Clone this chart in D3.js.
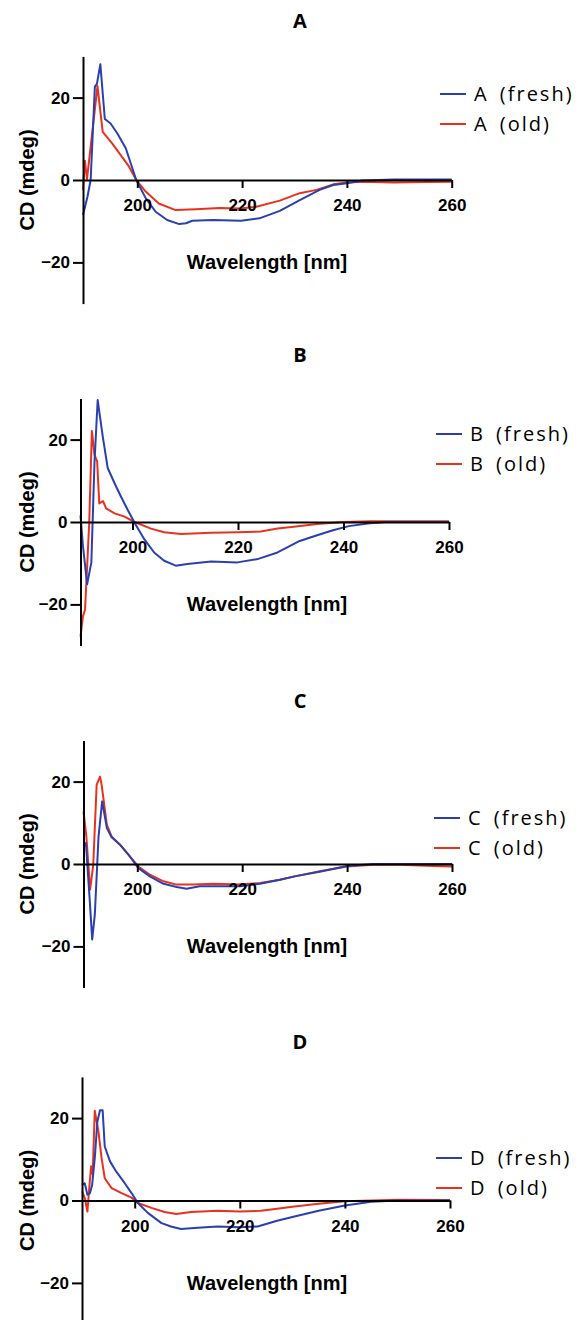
<!DOCTYPE html>
<html>
<head>
<meta charset="utf-8">
<script src="https://cdn.jsdelivr.net/npm/d3@7"></script>
<style>
  body { margin: 0; background: #fff; }
  svg { display: block; }
  .tick text { font-family: "Liberation Sans", Arial, sans-serif; font-weight: bold; font-size: 17px; fill: #000; }
  .axis-title { font-family: "Liberation Sans", Arial, sans-serif; font-weight: bold; font-size: 20px; }
  .panel-title { font-family: "Open Sans", sans-serif; font-weight: bold; font-size: 20px; }
  .legend-text { font-family: "Open Sans", sans-serif; font-size: 20px; letter-spacing: 2px; word-spacing: 4px; }
</style>
</head>
<body>
<div id="chart"></div>
<script>
// CD spectra, [wavelength nm, CD mdeg]
const aFresh = [[189.6,-8.5],[190.5,-4.0],[191.1,0],[191.9,22.6],[192.3,23.4],[192.95,28.1],[193.8,14.8],[194.9,13.7],[196.2,11.3],[197.8,7.7],[199.8,0],[201.6,-4.4],[203.5,-7.7],[205.7,-9.7],[208.0,-10.7],[209.3,-10.5],[210.5,-9.9],[214.4,-9.7],[219.8,-9.9],[223.3,-9.3],[227.2,-7.5],[231.0,-4.9],[234.8,-2.4],[237.4,-1.2],[240,-0.8],[243,-0.1],[249,0.1],[260,0.1]];
const aOld = [[189.6,-2.4],[190.0,4.7],[190.4,0.2],[192.4,22.8],[193.4,11.7],[195.2,8.9],[196.8,6.1],[198.4,3.3],[199.8,0],[201.6,-2.8],[204.1,-5.7],[207.3,-7.3],[211.2,-7.1],[215.7,-6.8],[219.8,-6.9],[222.7,-6.5],[227.2,-5.0],[231.0,-3.2],[234.2,-2.4],[237.4,-1.05],[240,-0.6],[243,-0.4],[249,-0.6],[255.5,-0.5],[260,-0.4]];
const bFresh = [[190,1.6],[190.6,-5.7],[191.4,-15.1],[192.2,-9.8],[192.8,14.7],[193.4,29.6],[194.4,20.4],[195.3,13.1],[196.6,9.4],[197.8,6.2],[199.1,2.9],[200.5,-0.4],[202.2,-4.1],[204.1,-7.4],[206.0,-9.4],[208.2,-10.6],[210.4,-10.2],[214.9,-9.6],[219.9,-9.8],[223.7,-9.0],[227.5,-7.4],[231.7,-4.6],[235,-3.2],[238,-2.0],[241,-1.0],[245,-0.3],[248,0],[260,0]];
const bOld = [[190,-27.8],[190.6,-22.9],[191.0,-21.3],[191.5,-8.2],[191.8,0],[192.3,22.1],[192.8,16.3],[193.3,14.7],[193.7,4.5],[194.4,5.1],[195.0,3.3],[196.6,2.1],[198.5,1.3],[200.4,0],[203.5,-1.6],[206.0,-2.5],[209.2,-2.9],[214.9,-2.6],[219.9,-2.5],[224.3,-2.3],[227.5,-1.6],[231,-1.1],[235,-0.5],[240,0],[245,0.2],[260,0.2]];
const cFresh = [[189.8,4.3],[190.2,5.1],[190.9,-8.2],[191.4,-18.3],[191.9,-12.3],[192.6,6.5],[193.3,15.2],[194.2,8.7],[195.1,6.5],[196.7,4.7],[198.3,2.3],[200.2,-1.0],[202.4,-3.0],[205.0,-4.8],[207.5,-5.6],[209.4,-6.0],[211.9,-5.4],[215.7,-5.4],[219.6,-5.4],[223.4,-4.8],[227.2,-3.8],[230,-3.0],[235,-1.8],[240,-0.5],[245,0],[260,0]];
const cOld = [[189.7,12.8],[190.3,6.5],[191.0,-6.2],[191.6,-0.2],[192.25,19.2],[192.9,21.2],[193.2,19.2],[194.2,9.5],[195.1,6.7],[196.7,4.7],[198.3,2.3],[200.2,-0.6],[202.4,-2.6],[205.0,-4.2],[207.5,-5.0],[210.7,-5.0],[214.5,-4.8],[219.6,-5.0],[223.4,-4.6],[227.2,-3.8],[230,-3.0],[235,-1.7],[240,-0.6],[245,-0.2],[250,-0.2],[255,-0.4],[260,-0.6]];
const dFresh = [[190,3.8],[190.5,4.2],[191.0,1.4],[191.5,1.8],[191.9,3.8],[192.4,10.3],[192.9,19.2],[193.4,21.9],[193.9,21.9],[194.3,13.1],[195.3,9.5],[196.5,7.0],[198.1,4.2],[199.4,1.8],[200.6,-0.6],[202.5,-3.0],[205.1,-5.5],[206.9,-6.3],[208.8,-6.9],[212.0,-6.6],[215.8,-6.3],[220,-6.5],[223.4,-6.3],[227.1,-4.9],[230,-4.0],[235,-2.5],[240,-1.2],[245,-0.3],[250,0],[260,0]];
const dOld = [[190,2.2],[190.5,0.6],[191.0,-2.7],[191.35,3.0],[191.7,8.3],[192.0,6.3],[192.4,21.8],[193.1,16.7],[193.7,10.3],[194.3,5.4],[195.6,3.0],[197.5,1.8],[199.4,0.7],[200.6,-0.6],[203.2,-1.8],[205.7,-2.8],[207.9,-3.3],[210.7,-2.8],[215.8,-2.5],[220,-2.7],[224.0,-2.5],[227.1,-2.0],[230,-1.5],[235,-0.8],[240,-0.2],[245,0],[250,0.2],[260,0.1]];

const panelNames = ["A", "B", "C", "D"];
const freshSeries = [aFresh, bFresh, cFresh, dFresh];
const oldSeries = [aOld, bOld, cOld, dOld];
const xTicks = [200, 220, 240, 260];
const yTicks = [-20, 0, 20];
const yDomain = [-30, 30];

const blue = "#2b3fae";
const red = "#e8321e";

// pixel layout for each panel
const layout = [
    { titleY: 28,   axisX: 83,   x200: 137.3, x260: 451.7, y0: 180,    legX: 440, legY: 94 },
    { titleY: 362,  axisX: 80.5, x200: 132.5, x260: 449,   y0: 522,    legX: 436, legY: 434 },
    { titleY: 708,  axisX: 83.5, x200: 137.3, x260: 452,   y0: 864,    legX: 434, legY: 818 },
    { titleY: 1049, axisX: 82,   x200: 134.7, x260: 450,   y0: 1200.5, legX: 436, legY: 1158 }
];
const pxPerUnit = 4.12;

const width = 588, height = 1320;
const svg = d3.select("#chart").append("svg")
    .attr("width", width)
    .attr("height", height);

panelNames.forEach((name, i) => {
    const L = layout[i];
    const g = svg.append("g");

    const ppn = (L.x260 - L.x200) / 60;
    const xStart = 200 - (L.x200 - L.axisX) / ppn;
    const x = d3.scaleLinear().domain([xStart, 260]).range([L.axisX, L.x260]);
    const y = d3.scaleLinear().domain(yDomain)
        .range([L.y0 + 30 * pxPerUnit, L.y0 - 30 * pxPerUnit]);

    const line = d3.line()
        .x(d => x(Math.max(d[0], xStart)))
        .y(d => y(d[1]));

    // curves
    g.append("path").datum(oldSeries[i])
        .attr("d", line).attr("fill", "none")
        .attr("stroke", red).attr("stroke-width", 2).attr("stroke-linejoin", "round");
    g.append("path").datum(freshSeries[i])
        .attr("d", line).attr("fill", "none")
        .attr("stroke", blue).attr("stroke-width", 2).attr("stroke-linejoin", "round");

    // axes
    const yAxis = g.append("g")
        .attr("transform", `translate(${L.axisX},0)`)
        .call(d3.axisLeft(y).tickValues(yTicks).tickSize(10).tickSizeOuter(0).tickPadding(3));
    const xAxis = g.append("g")
        .attr("transform", `translate(0,${y(0)})`)
        .call(d3.axisBottom(x).tickValues(xTicks).tickSize(8).tickSizeOuter(0).tickPadding(11));
    [xAxis, yAxis].forEach(ax => {
        ax.select(".domain").attr("stroke", "#000").attr("stroke-width", 2);
        ax.selectAll(".tick line").attr("stroke", "#000").attr("stroke-width", 2);
    });

    // titles
    g.append("text").attr("class", "panel-title")
        .attr("x", 300).attr("y", L.titleY)
        .attr("text-anchor", "middle").text(name);

    g.append("text").attr("class", "axis-title")
        .attr("x", 267).attr("y", y(0) + 89)
        .attr("text-anchor", "middle").text("Wavelength [nm]");

    g.append("text").attr("class", "axis-title")
        .attr("transform", `translate(34,${y(0)}) rotate(-90)`)
        .attr("text-anchor", "middle").text("CD (mdeg)");

    // legend
    const legend = g.append("g").attr("transform", `translate(${L.legX},${L.legY})`);
    const items = [{ label: `${name} (fresh)`, color: blue }, { label: `${name} (old)`, color: red }];
    legend.selectAll("line")
        .data(items)
        .join("line")
        .attr("x1", 0).attr("x2", 26)
        .attr("y1", (d, j) => j * 30).attr("y2", (d, j) => j * 30)
        .attr("stroke", d => d.color).attr("stroke-width", 2);
    legend.selectAll("text")
        .data(items)
        .join("text")
        .attr("class", "legend-text")
        .attr("x", 34)
        .attr("y", (d, j) => j * 30 + 7)
        .text(d => d.label);
});
</script>
</body>
</html>
